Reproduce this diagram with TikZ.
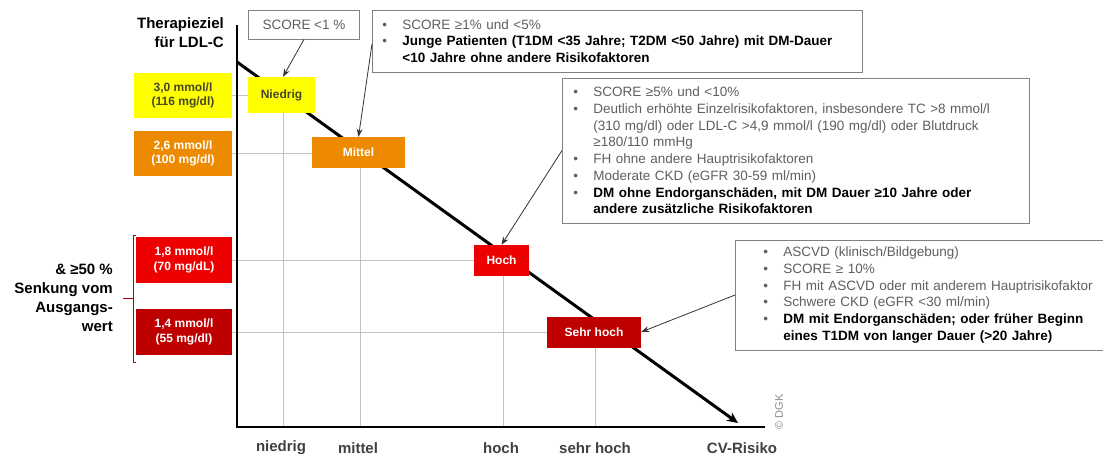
\documentclass[tikz,border=0pt]{standalone}
\usepackage{fontspec}
\setmainfont{Liberation Sans}
\usetikzlibrary{arrows.meta,backgrounds}
\definecolor{zielyellow}{RGB}{255,255,0}
\definecolor{zielorange}{RGB}{238,138,0}
\definecolor{zielred}{RGB}{236,0,0}
\definecolor{zieldark}{RGB}{190,0,0}
\definecolor{txtgray}{RGB}{95,95,95}
\definecolor{txtdark}{RGB}{70,70,40}
\definecolor{gridgray}{RGB}{195,195,195}
\newcommand\bul{\makebox[20pt][l]{•}}
\newcommand\ind{\hspace*{20pt}}
\newcommand\bld[1]{\textcolor{black}{\bfseries #1}}

\begin{document}
\begin{tikzpicture}[x=1pt, y=-1pt,
    ziel/.style={fill=#1, font=\fontsize{12}{14.5}\selectfont\bfseries, align=center,
                 inner sep=0pt, minimum width=98pt, minimum height=45pt},
    risk/.style={fill=#1, font=\fontsize{12}{14.5}\selectfont\bfseries, text=white,
                 inner sep=0pt, minimum height=31pt},
    note/.style={draw=black!50, line width=0.9pt, fill=white, text=txtgray, align=left,
                 font=\fontsize{13.5}{16.7}\selectfont, inner ysep=0pt, anchor=west},
    lbl/.style={font=\fontsize{15}{19}\selectfont\bfseries, inner sep=0pt},
    grid/.style={draw=gridgray, line width=0.8pt},
    callout/.style={draw=black!80, line width=0.8pt, -{Stealth[length=8pt,width=6pt]}},
    trend/.style={line width=3pt, -{Stealth[length=11pt,width=10pt]}}
  ]
  \useasboundingbox (0,0) rectangle (1103,455);
  \coordinate (O) at (237,427);
  \coordinate (ytop) at (237,25);
  \coordinate (xend) at (765,427);
  \coordinate (tstart) at (237,62);
  \coordinate (ttip) at (738,423);
  % Target levels
  \node[ziel=zielyellow, text=txtdark] (zielA) at (183,95.5) {3,0 mmol/l\\(116 mg/dl)};
  \node[ziel=zielorange, text=white] (zielB) at (183,153.5) {2,6 mmol/l\\(100 mg/dl)};
  \node[ziel=zielred, text=white, minimum width=96pt, minimum height=46pt] (zielC)
    at (184,260) {1,8 mmol/l\\(70 mg/dL)};
  \node[ziel=zieldark, text=white, minimum width=96pt, minimum height=46pt] (zielD)
    at (184,332) {1,4 mmol/l\\(55 mg/dl)};
  % Risk categories
  \node[risk=zielyellow, text=txtdark, minimum width=67pt, minimum height=36pt] (niedrig)
    at (281.5,95) {Niedrig};
  \node[risk=zielorange, minimum width=93pt] (mittel) at (358.5,152.5) {Mittel};
  \node[risk=zielred, minimum width=55pt] (hoch) at (501.5,260.5) {Hoch};
  \node[risk=zieldark, minimum width=94pt] (sehrhoch) at (594,332) {Sehr hoch};
  \begin{scope}[on background layer]
    % Grid lines
    \draw[grid] (zielA.east) -- (zielA.east -| niedrig.west);
    \draw[grid] (zielB.east) -- (zielB.east -| mittel.west);
    \draw[grid] (zielC.east) -- (zielC.east -| hoch.west);
    \draw[grid] (zielD.east) -- (zielD.east -| sehrhoch.west);
    \foreach \r in {niedrig,mittel,hoch,sehrhoch}{
      \draw[grid] ([xshift=1.5pt]\r.south) -- ([xshift=1.5pt]\r.south |- O);
    }
    % Trend arrow behind the boxes
    \draw[trend] (tstart) -- (ttip);
  \end{scope}
  % Axes
  \draw[line width=2.6pt] (ytop) -- (O) -- (xend);
  % Axis labels
  \node[lbl, anchor=east, align=right] (zieltitel) at (224,33) {Therapieziel\\für LDL-C};
  \node[lbl, anchor=east, align=right] (senkung) at (113,298)
    {\& ≥50 \%\\Senkung vom\\Ausgangs-\\wert};
  \node[lbl, text=black!75] (xniedrig) at (281,448) {niedrig};
  \node[lbl, text=black!75] (xmittel) at (358,448) {mittel};
  \node[lbl, text=black!75] (xhoch) at (501,448) {hoch};
  \node[lbl, text=black!75] (xsehrhoch) at (595,448) {sehr hoch};
  \node[lbl, text=black!75] (xrisiko) at (742,448) {CV-Risiko};
  \node[rotate=90, font=\fontsize{11}{12}\selectfont, text=black!45] (dgk) at (779,412) {© DGK};
  % Bracket for the two lowest targets
  \draw[draw=red!70!black, line width=0.8pt] (136,235) -- (133,235) -- (133,362) -- (136,362);
  \draw[draw=red!70!black, line width=0.8pt] (133,298) -- (123,298);
  % Criteria boxes
  \node[note, align=center, inner xsep=0pt, minimum width=111pt, minimum height=29pt]
    (infoA) at (248,24.5) {SCORE <1 \%};
  \node[note, inner xsep=10pt, text width=470pt, minimum height=62pt] (infoB) at (372,41) {%
    \bul SCORE ≥1\% und <5\%\\
    \bul\bld{Junge Patienten (T1DM <35 Jahre; T2DM <50 Jahre) mit DM-Dauer}\\
    \ind\bld{<10 Jahre ohne andere Risikofaktoren}};
  \node[note, inner xsep=11pt, text width=445pt, minimum height=145pt] (infoC) at (562,150.5) {%
    \bul SCORE ≥5\% und <10\%\\
    \bul Deutlich erhöhte Einzelrisikofaktoren, insbesondere TC >8 mmol/l\\
    \ind (310 mg/dl) oder LDL-C >4,9 mmol/l (190 mg/dl) oder Blutdruck\\
    \ind ≥180/110 mmHg\\
    \bul FH ohne andere Hauptrisikofaktoren\\
    \bul Moderate CKD (eGFR 30-59 ml/min)\\
    \bul\bld{DM ohne Endorganschäden, mit DM Dauer ≥10 Jahre oder}\\
    \ind\bld{andere zusätzliche Risikofaktoren}};
  \node[note, inner xsep=28pt, text width=350pt, minimum height=110pt] (infoD) at (735,295) {%
    \bul ASCVD (klinisch/Bildgebung)\\
    \bul SCORE ≥ 10\%\\
    \bul FH mit ASCVD oder mit anderem Hauptrisikofaktor\\
    \bul Schwere CKD (eGFR <30 ml/min)\\
    \bul\bld{DM mit Endorganschäden; oder früher Beginn}\\
    \ind\bld{eines T1DM von langer Dauer (>20 Jahre)}};
  % Callout arrows
  \draw[callout] (infoA.south) -- ([xshift=1.5pt]niedrig.north);
  \draw[callout] ([yshift=-3pt]infoB.west) -- (mittel.north);
  \draw[callout] (infoC.west) -- (hoch.north);
  \draw[callout] (infoD.west) -- (sehrhoch.east);
\end{tikzpicture}
\end{document}
